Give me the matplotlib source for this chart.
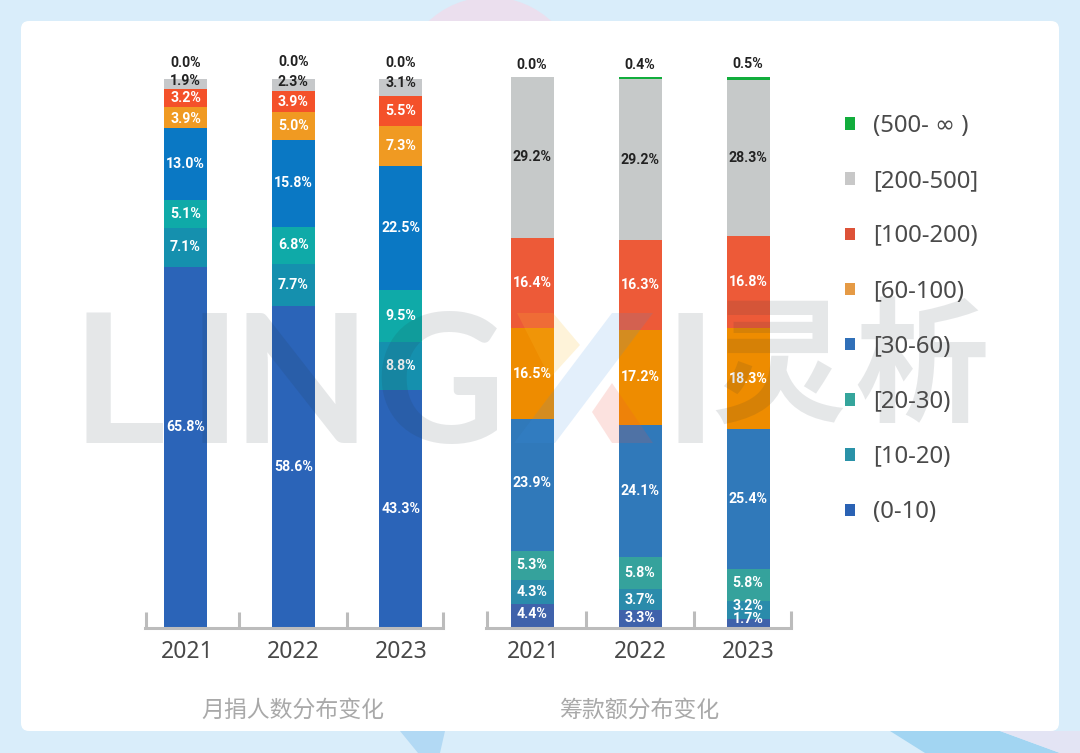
import matplotlib
matplotlib.use("Agg")
import matplotlib.pyplot as plt
from matplotlib.patches import FancyBboxPatch, Patch, Polygon, Circle
from matplotlib.transforms import ScaledTranslation

plt.rcParams['font.family'] = ['Noto Sans', 'DejaVu Sans']

years = ['2021', '2022', '2023']
bins = ['(0-10)', '[10-20)', '[20-30)', '[30-60)', '[60-100)', '[100-200)', '[200-500]', '(500- ∞ )']

donors_0_10 = [65.8, 58.6, 43.3]
donors_10_20 = [7.1, 7.7, 8.8]
donors_20_30 = [5.1, 6.8, 9.5]
donors_30_60 = [13.0, 15.8, 22.5]
donors_60_100 = [3.9, 5.0, 7.3]
donors_100_200 = [3.2, 3.9, 5.5]
donors_200_500 = [1.9, 2.3, 3.1]
donors_500_up = [0.0, 0.0, 0.0]
donors = [donors_0_10, donors_10_20, donors_20_30, donors_30_60,
          donors_60_100, donors_100_200, donors_200_500, donors_500_up]

funds_0_10 = [4.4, 3.3, 1.7]
funds_10_20 = [4.3, 3.7, 3.2]
funds_20_30 = [5.3, 5.8, 5.8]
funds_30_60 = [23.9, 24.1, 25.4]
funds_60_100 = [16.5, 17.2, 18.3]
funds_100_200 = [16.4, 16.3, 16.8]
funds_200_500 = [29.2, 29.2, 28.3]
funds_500_up = [0.0, 0.4, 0.5]
funds = [funds_0_10, funds_10_20, funds_20_30, funds_30_60,
         funds_60_100, funds_100_200, funds_200_500, funds_500_up]

colors_left = ['#2b64b8', '#1590ae', '#0faaa8', '#0a78c4', '#f09a22', '#f4512a', '#c6c8ca', '#12ad3c']
colors_right = ['#3f62ab', '#2a8bab', '#35a29c', '#3079ba', '#ee8c00', '#ed5a38', '#c6c9c9', '#12ad3c']
legend_colors = ['#2a62b4', '#2a92a8', '#35a59c', '#3070b8', '#e59a45', '#dd5238', '#c8c8c8', '#12ad3c']

W, H = 1080, 753
fig = plt.figure(figsize=(W / 100, H / 100), dpi=100, facecolor='#d9edfa')

bg = fig.add_axes([0, 0, 1, 1], zorder=0)
bg.set_xlim(0, W); bg.set_ylim(H, 0); bg.axis('off')
bg.add_patch(Circle((490, 87), 90, fc='#ebdfee', ec='none'))
bg.add_patch(Polygon([(400, 731), (445, 731), (440, 753), (418, 753)], fc='#b2d9f4', ec='none'))
bg.add_patch(Polygon([(890, 731), (1000, 731), (1060, 753), (925, 753)], fc='#a2d5f2', ec='none'))
bg.add_patch(Polygon([(1000, 731), (1080, 731), (1080, 753), (1060, 753)], fc='#e3e4f4', ec='none'))
bg.add_patch(FancyBboxPatch((27, 27), 1026, 698, boxstyle='round,pad=6,rounding_size=8',
                            fc='white', ec='none'))


def make_axes(x0, x1, top, first_center, spacing, title, data, colors, nudges):
    base = 628
    ax = fig.add_axes([x0 / W, 1 - base / H, (x1 - x0) / W, (base - top) / H], zorder=2)
    ax.set_xlim((x0 - first_center) / spacing, (x1 - first_center) / spacing)
    ax.set_ylim(0, 100)
    ax.patch.set_alpha(0)
    for s in ('top', 'left', 'right'):
        ax.spines[s].set_visible(False)
    ax.spines['bottom'].set_color('#bcbcbc')
    ax.spines['bottom'].set_linewidth(2.2)
    ax.set_yticks([])
    ax.set_xticks(range(3), years)
    ax.tick_params(axis='x', length=0, pad=9, labelsize=16.5, labelcolor='#484848')
    for lab, px in zip(ax.get_xticklabels(), (1.5, 0, 0)):
        lab.set_transform(lab.get_transform() + ScaledTranslation(px / 100, 0, fig.dpi_scale_trans))
    for e in (x0 + 0.5, first_center + 0.5 * spacing, first_center + 1.5 * spacing, x1 - 0.5):
        ax.plot([(e - first_center) / spacing] * 2, [0, 3], color='#bcbcbc', lw=2.2,
                clip_on=False, solid_capstyle='butt')
    bottoms = [0, 0, 0]
    for i, series in enumerate(data):
        ax.bar(range(3), series, bottom=bottoms, width=43 / spacing, color=colors[i], linewidth=0)
        for j, v in enumerate(series):
            dark = i >= 6
            mid = bottoms[j] + v / 2
            ax.annotate(f'{v:.1f}%', (j, mid), xytext=(0, nudges.get((i, j), 0) * 0.72),
                        textcoords='offset points', ha='center', va='center', fontsize=10.2,
                        fontweight='bold', family=['Roboto', 'DejaVu Sans'],
                        color='#222222' if dark else 'white', annotation_clip=False, zorder=5)
        bottoms = [b + v for b, v in zip(bottoms, series)]
    fig.text(first_center / W + spacing / W, 1 - 710 / H, title, ha='center', va='center', fontsize=16.5,
             color='#a9a9a9', family=['Noto Sans CJK SC', 'DejaVu Sans'])
    return ax


left_nudges = {(0, 0): 20, (7, 0): 16, (7, 1): 16, (7, 2): 16, (6, 0): 3, (6, 1): 3, (6, 2): 5, (4, 0): -1}
right_nudges = {(7, 0): 12, (7, 1): 13, (7, 2): 14, (0, 2): 4, (1, 2): 4, (0, 0): 2, (0, 1): 1, (2, 2): 2, (3, 0): 2}
make_axes(145, 443, 79, 185.5, 107.7, '月捐人数分布变化', donors, colors_left, left_nudges)
make_axes(486, 791, 77, 532, 108, '筹款额分布变化', funds, colors_right, right_nudges)

handles = [Patch(fc=c, ec='none', label=b) for c, b in zip(legend_colors, bins)]
fig.legend(handles=handles[::-1], loc='upper left', bbox_to_anchor=(845 / W, 1 - 114 / H),
           frameon=False, fontsize=17.2, handlelength=0.42, handleheight=0.42,
           handletextpad=0.75, labelspacing=1.306, labelcolor='#4a4a4a', borderpad=0, borderaxespad=0)

# watermark laid over everything
ov = fig.add_axes([0, 0, 1, 1], zorder=5)
ov.set_xlim(0, W); ov.set_ylim(H, 0); ov.axis('off')
wm = dict(color='#20303c', alpha=0.115, va='baseline', ha='left', fontsize=130, fontweight='bold',
          family=['Lato', 'DejaVu Sans'])
for x, ch in [(72, 'L'), (188, 'I'), (232, 'N'), (374, 'G'), (664, 'I')]:
    ov.text(x, 443, ch, **wm)
cjk = {**wm, 'fontsize': 97, 'family': ['Noto Sans CJK SC', 'DejaVu Sans'], 'va': 'center'}
ov.text(711, 372, '灵', **cjk)
ov.text(854, 372, '析', **cjk)
ov.add_patch(Polygon([(517, 313), (553, 313), (580, 345), (550, 378)], fc='#fcc030', alpha=0.18, ec='none'))
ov.add_patch(Polygon([(612, 313), (653, 313), (555, 443), (514, 443)], fc='#3a8fe8', alpha=0.14, ec='none'))
ov.add_patch(Polygon([(592, 412), (612, 383), (653, 443), (612, 443)], fc='#f2503c', alpha=0.16, ec='none'))

fig.savefig('out.png', dpi=100, facecolor=fig.get_facecolor())
